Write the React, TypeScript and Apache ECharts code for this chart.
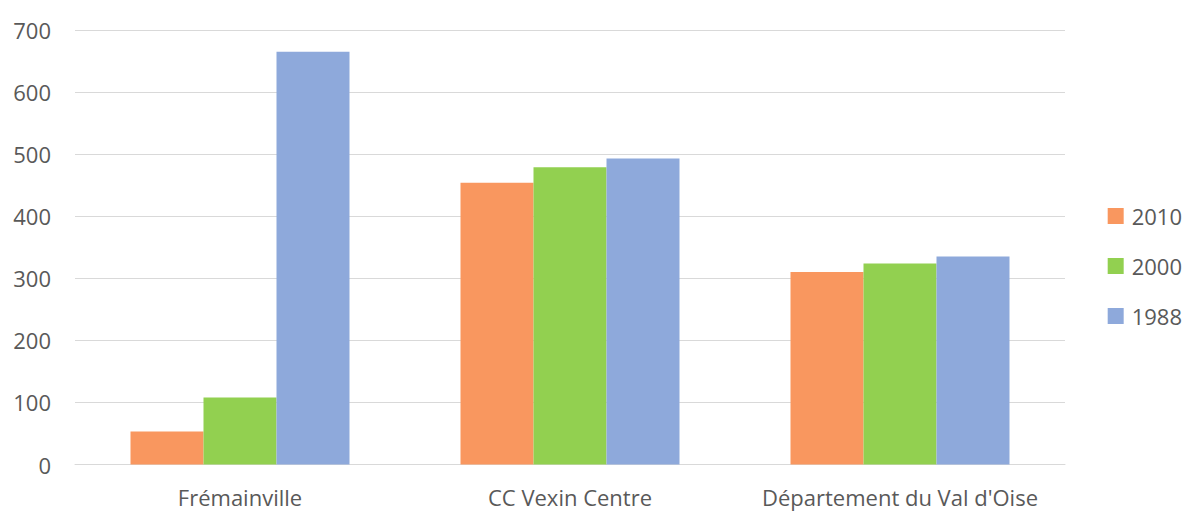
import React, { useEffect, useRef } from "react";
import * as echarts from "echarts";

const categories = ["Frémainville", "CC Vexin Centre", "Département du Val d'Oise"];
const seriesNames = ["2010", "2000", "1988"];
const values2010 = [53, 454, 310];
const values2000 = [108, 479, 324];
const values1988 = [665, 493, 335];
const colors = ["#F9975F", "#92D050", "#8EA9DB"];

export default function App() {
  const ref = useRef<HTMLDivElement>(null);
  useEffect(() => {
    if (!ref.current) return;
    const chart = echarts.init(ref.current, null, { renderer: "svg" });
    const font = "'Open Sans', sans-serif";
    const data = [values2010, values2000, values1988];
    chart.setOption({
      animation: false,
      backgroundColor: "#ffffff",
      grid: { left: 75, right: 128, top: 30, bottom: 46.5, containLabel: false },
      legend: {
        orient: "vertical",
        right: 6,
        top: 200,
        itemWidth: 16,
        itemHeight: 16,
        itemGap: 28,
        icon: "rect",
        textStyle: { color: "#595959", fontSize: 22, fontFamily: font, padding: [0, 0, 0, 3] },
        data: seriesNames,
      },
      xAxis: {
        type: "category",
        data: categories,
        axisLine: { show: true, lineStyle: { color: "#D9D9D9", width: 1 } },
        axisTick: { show: false },
        axisLabel: { color: "#595959", fontSize: 22, fontFamily: font, margin: 21, interval: 0 },
      },
      yAxis: {
        type: "value",
        min: 0,
        max: 700,
        interval: 100,
        axisLine: { show: false },
        axisTick: { show: false },
        splitLine: { lineStyle: { color: "#D9D9D9", width: 1 } },
        axisLabel: { color: "#595959", fontSize: 22, fontFamily: font, margin: 24 },
      },
      series: seriesNames.map((name, i) => ({
        name,
        type: "bar",
        data: data[i],
        barWidth: 73,
        barGap: "0%",
        itemStyle: { color: colors[i] },
      })),
    });
    return () => chart.dispose();
  }, []);
  return <div ref={ref} style={{ width: 1193, height: 511, position: "absolute", left: 0, top: 0 }} />;
}
